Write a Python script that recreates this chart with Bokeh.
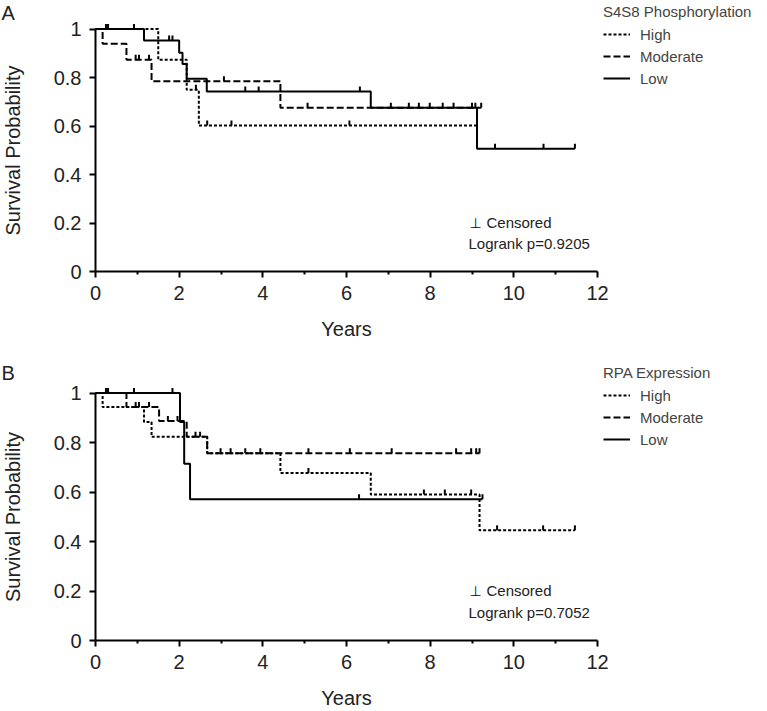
import numpy as np
from bokeh.plotting import figure
from bokeh.models import Range1d, FixedTicker, CustomJSTickFormatter, Legend, LegendItem, Label
from bokeh.layouts import column
from bokeh.embed import file_html
from bokeh.resources import INLINE

FONT = "Liberation Sans"

# ---------------- data ----------------
group_labels = ["High", "Moderate", "Low"]
x_major_ticks = [0, 2, 4, 6, 8, 10, 12]
x_minor_ticks = [1, 3, 5, 7, 9, 11]
y_ticks = [0, 0.2, 0.4, 0.6, 0.8, 1.0]

# Panel A : S4S8 phosphorylation  (step times in years, survival after each time)
a_high_t = [0, 1.50, 2.18, 2.47, 9.10]
a_high_s = [1.0, 0.873, 0.749, 0.602, 0.602]
a_high_c = [0.30, 2.40, 2.67, 3.25, 6.07]

a_mod_t = [0, 0.17, 0.74, 1.34, 4.42, 9.22]
a_mod_s = [1.0, 0.939, 0.873, 0.785, 0.675, 0.675]
a_mod_c = [0.96, 1.04, 1.28, 3.07, 5.07, 7.49, 7.99, 8.56, 9.08, 9.22]

a_low_t = [0, 1.16, 2.00, 2.08, 2.18, 2.66, 6.58, 9.12, 11.46]
a_low_s = [1.0, 0.953, 0.902, 0.856, 0.795, 0.742, 0.675, 0.506, 0.506]
a_low_c = [0.25, 0.92, 1.76, 1.84, 3.58, 3.90, 6.32, 7.06, 7.73, 8.30, 9.00, 9.55, 10.71, 11.46]

# Panel B : RPA expression
b_high_t = [0, 0.17, 1.16, 1.34, 2.67, 4.42, 6.58, 9.18, 11.46]
b_high_s = [1.0, 0.943, 0.883, 0.823, 0.757, 0.677, 0.590, 0.445, 0.445]
b_high_c = [2.39, 5.09, 7.85, 8.35, 8.98, 9.60, 10.70, 11.46]

b_mod_t = [0, 0.74, 1.52, 2.18, 2.67, 9.18]
b_mod_s = [1.0, 0.943, 0.887, 0.823, 0.757, 0.757]
b_mod_c = [0.25, 0.30, 0.96, 1.04, 1.28, 1.73, 1.96, 2.50, 2.99, 3.23, 3.58, 3.94,
           5.09, 6.08, 7.08, 8.62, 8.98, 9.10, 9.18]

b_low_t = [0, 2.02, 2.12, 2.26, 9.25]
b_low_s = [1.0, 0.883, 0.714, 0.571, 0.571]
b_low_c = [0.92, 1.84, 6.30, 9.25]

# ---------------- styling / layout (pixel geometry) ----------------
DASHES = ["3 2", "7 3", "solid"]
W = 760
X0_PX = 95            # canvas x of year 0
X12_PX = 597          # canvas x of year 12
PPX = (X12_PX - X0_PX) / 12.0


def level_at(t_steps, s_steps, t):
    i = np.searchsorted(np.asarray(t_steps), t, side="right") - 1
    i = min(max(i, 0), len(s_steps) - 1)
    return s_steps[i]


def panel(letter, title, pval, curves, fig_h, zero_px, ppu, letter_px, legend_bottom_px):
    # the plot frame covers the whole canvas; axes are pinned at x=0 / y=0
    xr = Range1d(-X0_PX / PPX, (W - X0_PX) / PPX)
    yr = Range1d(-(fig_h - zero_px) / ppu, zero_px / ppu)
    p = figure(width=W, height=fig_h, output_backend="svg", toolbar_location=None,
               x_range=xr, y_range=yr,
               min_border_left=0, min_border_right=0, min_border_top=0, min_border_bottom=0)
    p.outline_line_color = None
    p.grid.visible = False
    p.background_fill_color = "white"

    tick_h = 5.0 / ppu
    items = []
    for (ts, ss, cs), lab, dash in zip(curves, group_labels, DASHES):
        r = p.step(ts, ss, mode="after", line_color="black", line_width=2, line_dash=dash)
        cy = [level_at(ts, ss, c) for c in cs]
        p.segment(x0=cs, y0=cy, x1=cs, y1=[v + tick_h for v in cy], line_color="black", line_width=2)
        items.append(LegendItem(label=lab, renderers=[r]))

    leg = Legend(items=items, location=(603, fig_h - legend_bottom_px), title=title,
                 title_text_font=FONT, title_text_font_size="15px", title_text_font_style="normal",
                 title_standoff=5, label_text_font=FONT, label_text_font_size="15px",
                 glyph_width=27, glyph_height=18, label_height=18, label_standoff=10,
                 spacing=4, padding=0, margin=0, border_line_alpha=0, background_fill_alpha=0)
    p.add_layout(leg)

    xa = p.xaxis[0]
    xa.fixed_location = 0
    xa.ticker = FixedTicker(ticks=x_major_ticks, minor_ticks=x_minor_ticks)
    xa.bounds = (0, 12)
    xa.axis_label = "Years"
    ya = p.yaxis[0]
    ya.fixed_location = 0
    ya.ticker = FixedTicker(ticks=y_ticks, minor_ticks=[])
    ya.bounds = (0, 1)
    ya.axis_label = "Survival Probability"
    ya.formatter = CustomJSTickFormatter(code="return String(Math.round(tick*10)/10);")
    for ax in (xa, ya):
        ax.axis_line_width = 2
        ax.axis_line_color = "black"
        ax.major_tick_line_width = 2
        ax.major_tick_line_color = "black"
        ax.major_tick_in = 0
        ax.major_tick_out = 6
        ax.minor_tick_line_width = 2
        ax.minor_tick_line_color = "black"
        ax.minor_tick_in = 0
        ax.minor_tick_out = 3
        ax.major_label_text_font = FONT
        ax.major_label_text_font_size = "20px"
        ax.major_label_text_color = "#222222"
        ax.axis_label_text_font = FONT
        ax.axis_label_text_font_size = "20px"
        ax.axis_label_text_font_style = "normal"
        ax.axis_label_text_color = "#222222"
    xa.major_label_standoff = 8
    xa.axis_label_standoff = 15
    ya.major_label_standoff = 8
    ya.axis_label_standoff = 27

    p.add_layout(Label(x=(1 - X0_PX) / PPX, y=(zero_px - letter_px) / ppu, text=letter,
                       text_font=FONT, text_font_size="20px", text_baseline="middle",
                       text_align="left", text_color="#222222"))
    p.add_layout(Label(x=(475 - X0_PX) / PPX, y=0.202, text="\u22a5", text_font="DejaVu Sans",
                       text_font_size="14px", text_baseline="middle", text_align="center",
                       text_color="black"))
    p.add_layout(Label(x=(486 - X0_PX) / PPX, y=0.202, text="Censored", text_font=FONT,
                       text_font_size="15px", text_baseline="middle", text_align="left",
                       text_color="#222222"))
    p.add_layout(Label(x=(468 - X0_PX) / PPX, y=0.115, text="Logrank p=" + pval, text_font=FONT,
                       text_font_size="15px", text_baseline="middle", text_align="left",
                       text_color="#222222"))
    return p


pa = panel("A", "S4S8 Phosphorylation", "0.9205",
           [(a_high_t, a_high_s, a_high_c), (a_mod_t, a_mod_s, a_mod_c), (a_low_t, a_low_s, a_low_c)],
           fig_h=350, zero_px=271, ppu=242.5, letter_px=12.5, legend_bottom_px=87)
pb = panel("B", "RPA Expression", "0.7052",
           [(b_high_t, b_high_s, b_high_c), (b_mod_t, b_mod_s, b_mod_c), (b_low_t, b_low_s, b_low_c)],
           fig_h=360, zero_px=290, ppu=247.5, letter_px=22, legend_bottom_px=98)

layout = column(pa, pb, spacing=0)
open("out.html", "w").write(file_html(layout, INLINE))
